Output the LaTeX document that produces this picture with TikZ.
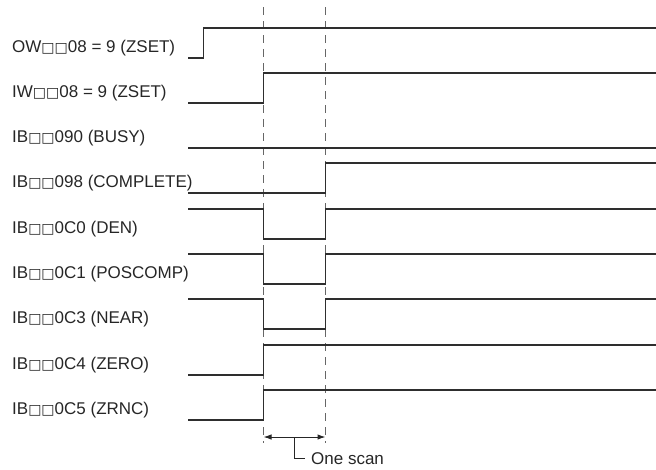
\documentclass[tikz,border=0pt]{standalone}
\usepackage{fontspec}
\setmainfont{Liberation Sans}
\newfontfamily\sqfont{DejaVu Sans}
\newcommand\bx{{\sqfont\fontsize{14}{16}\selectfont □}}
\usetikzlibrary{arrows.meta}
\begin{document}
\begin{tikzpicture}[x=1pt,y=-1pt,
  sig/.style={line width=1.7pt, draw=black!82, line join=miter},
  guide/.style={draw=black!60, line width=1pt, dash pattern=on 8pt off 6pt},
  lbl/.style={anchor=west, font=\fontsize{17}{20}\selectfont, inner sep=0pt, text=black!85},
  dim/.style={draw=black!85, line width=1pt}]
\useasboundingbox (0,0) rectangle (656,469);
\def\xs{188}\def\xa{263.5}\def\xb{325.5}\def\xe{656}
% guide lines
\coordinate (g1t) at (\xa,7); \coordinate (g1b) at (\xa,443);
\coordinate (g2t) at (\xb,7); \coordinate (g2b) at (\xb,443);
\draw[guide] (g1t) -- (g1b);
\draw[guide] (g2t) -- (g2b);
% rows: low = round(57.5 + 45.3 i), high = low - 30
\def\L#1{\fpeval{round(57.5+45.3*#1)}}
\def\H#1{\fpeval{round(57.5+45.3*#1)-30}}
\foreach \i/\txt in {0/{OW\bx\bx08 = 9 (ZSET)},1/{IW\bx\bx08 = 9 (ZSET)},2/{IB\bx\bx090 (BUSY)},3/{IB\bx\bx098 (COMPLETE)},4/{IB\bx\bx0C0 (DEN)},5/{IB\bx\bx0C1 (POSCOMP)},6/{IB\bx\bx0C3 (NEAR)},7/{IB\bx\bx0C4 (ZERO)},8/{IB\bx\bx0C5 (ZRNC)}}{
  \node[lbl] (lab\i) at (12,\L\i-10) {\txt};
}
% OW
\draw[sig] (\xs,\L0) -- (203.5,\L0) -- (203.5,\H0) -- (\xe,\H0);
% IW
\draw[sig] (\xs,\L1) -- (\xa,\L1) -- (\xa,\H1) -- (\xe,\H1);
% BUSY
\draw[sig] (\xs,\L2) -- (\xe,\L2);
% COMPLETE
\draw[sig] (\xs,\L3) -- (\xb,\L3) -- (\xb,\H3) -- (\xe,\H3);
% DEN, POSCOMP, NEAR
\foreach \i in {4,5,6}{
  \draw[sig] (\xs,\H\i) -- (\xa,\H\i) -- (\xa,\L\i) -- (\xb,\L\i) -- (\xb,\H\i) -- (\xe,\H\i);
}
% ZERO, ZRNC
\foreach \i in {7,8}{
  \draw[sig] (\xs,\L\i) -- (\xa,\L\i) -- (\xa,\H\i) -- (\xe,\H\i);
}
% one scan dimension
\coordinate (ar1) at (\xa,437); \coordinate (ar2) at (\xb,437);
\coordinate (tk1) at (294,437); \coordinate (tk2) at (294,458); \coordinate (tk3) at (305,458);
\draw[dim, {Latex[length=8pt,width=5.5pt]}-{Latex[length=8pt,width=5.5pt]}] (ar1) -- (ar2);
\draw[dim] (tk1) -- (tk2) -- (tk3);
\node[lbl] (scan) at (311,459) {One scan};
\end{tikzpicture}
\end{document}
